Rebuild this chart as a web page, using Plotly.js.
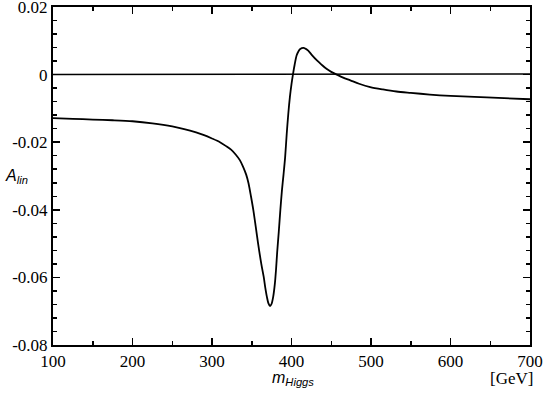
<!DOCTYPE html>
<html>
<head>
<meta charset="utf-8">
<script src="https://cdn.plot.ly/plotly-3.0.1.min.js"></script>
<style>
  body { margin: 0; padding: 0; background: #fff; }
  #chart { width: 545px; height: 394px; }
</style>
</head>
<body>
<div id="chart"></div>
<script>
// Higgs mass (GeV) and asymmetry
var mHiggs = [100, 125, 150, 175, 200, 225, 250, 265, 280, 290, 300, 310, 318, 324, 330, 335, 339, 343, 346, 349, 352, 355, 358, 362, 365, 367, 369, 371, 373, 375, 377, 379, 380.5, 382, 384, 386, 388, 390, 392, 394, 396, 398, 400, 402, 404, 406.5, 409, 411, 415, 418, 421, 426, 432, 438, 444, 450, 457, 465, 474, 485, 499, 515, 532, 550, 574, 600, 630, 660, 700];
var aLin = [-0.0129, -0.0131, -0.0133, -0.0135, -0.0138, -0.0144, -0.0153, -0.0161, -0.0171, -0.0179, -0.0189, -0.0200, -0.0212, -0.0222, -0.0237, -0.0253, -0.0272, -0.0296, -0.0322, -0.0360, -0.0401, -0.0450, -0.0500, -0.0560, -0.0598, -0.0630, -0.0657, -0.0677, -0.0685, -0.0678, -0.0657, -0.0620, -0.0578, -0.0525, -0.0465, -0.0400, -0.0342, -0.0295, -0.0244, -0.0175, -0.0115, -0.0066, -0.0028, 0.0003, 0.0030, 0.0057, 0.0070, 0.0076, 0.0079, 0.0076, 0.0071, 0.0057, 0.0042, 0.0029, 0.0017, 0.0008, 0.0, -0.0009, -0.0017, -0.0027, -0.0037, -0.0044, -0.0050, -0.0054, -0.0059, -0.0063, -0.0066, -0.0069, -0.0073];

// reference line at zero
var zeroX = [100, 700];
var zeroY = [0, 0.0002];

var xTicks = [100, 200, 300, 400, 500, 600, 700];
var yTicks = [-0.08, -0.06, -0.04, -0.02, 0, 0.02];
var yTickText = ['-0.08', '-0.06', '-0.04', '-0.02', '0', '0.02'];

var serif = 'Liberation Serif';
var sans = 'Liberation Sans';

var data = [
    {
        x: zeroX, y: zeroY, mode: 'lines', type: 'scatter',
        line: { color: '#000', width: 1.5 }, hoverinfo: 'skip'
    },
    {
        x: mHiggs, y: aLin, mode: 'lines', type: 'scatter',
        line: { color: '#000', width: 1.8, shape: 'spline', smoothing: 0.8 }
    }
];

function axisBase() {
    return {
        showgrid: false,
        zeroline: false,
        showline: true,
        linecolor: '#000',
        linewidth: 2,
        mirror: 'allticks',
        ticks: 'inside',
        ticklen: 7,
        tickwidth: 1.5,
        tickcolor: '#000',
        ticklabeloverflow: 'allow',
        tickfont: { family: serif, size: 17, color: '#000' }
    };
}

var xaxis = axisBase();
xaxis.range = [100, 700];
xaxis.tickvals = xTicks;
xaxis.ticktext = xTicks.map(String);
xaxis.minor = { dtick: 50, tick0: 100, ticks: 'inside', ticklen: 4, tickwidth: 1.5, tickcolor: '#000' };

var yaxis = axisBase();
yaxis.range = [-0.08, 0.02];
yaxis.tickvals = yTicks;
yaxis.ticktext = yTickText;
yaxis.minor = { dtick: 0.004, tick0: 0, ticks: 'inside', ticklen: 4, tickwidth: 1.5, tickcolor: '#000' };

var layout = {
    width: 545,
    height: 394,
    margin: { l: 53, r: 15, t: 7, b: 49 },
    font: { family: serif, size: 17, color: '#000' },
    paper_bgcolor: '#fff',
    plot_bgcolor: '#fff',
    showlegend: false,
    xaxis: xaxis,
    yaxis: yaxis,
    annotations: [
        {
            xref: 'paper', yref: 'paper', x: -0.105, y: 0.5, xanchor: 'left', yanchor: 'middle',
            text: '<i>A</i><sub><i>lin</i></sub>', showarrow: false,
            font: { family: sans, size: 16, color: '#000' }
        },
        {
            xref: 'paper', yref: 'paper', x: 0.455, y: -0.1, xanchor: 'left', yanchor: 'middle',
            text: '<i>m</i><sub><i>Higgs</i></sub>', showarrow: false,
            font: { family: sans, size: 16, color: '#000' }
        },
        {
            xref: 'paper', yref: 'paper', x: 1.01, y: -0.1, xanchor: 'right', yanchor: 'middle',
            text: '[GeV]', showarrow: false,
            font: { family: serif, size: 17, color: '#000' }
        }
    ]
};

Plotly.newPlot('chart', data, layout, { displayModeBar: false, staticPlot: true });
</script>
</body>
</html>
